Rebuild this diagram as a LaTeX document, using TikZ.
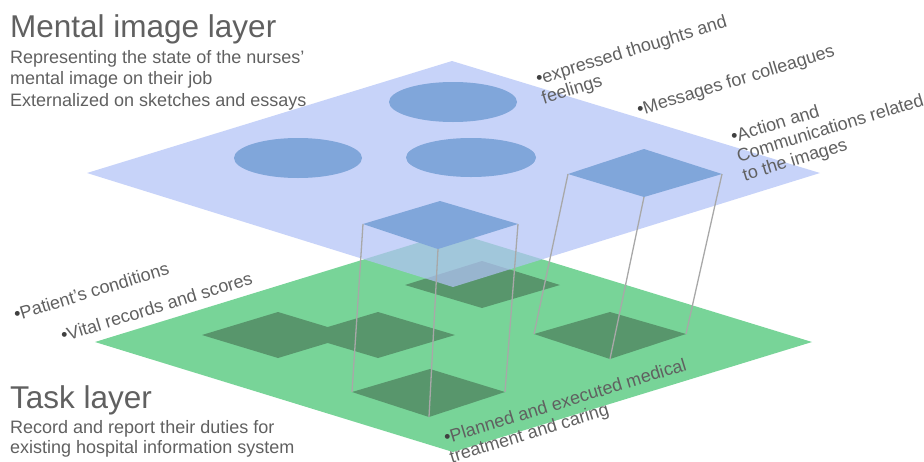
\documentclass[tikz,border=0pt]{standalone}
\usepackage{fontspec}
\setmainfont{Liberation Sans}
\definecolor{bplane}{RGB}{178,194,246}
\definecolor{gplane}{RGB}{120,212,152}
\definecolor{gsq}{RGB}{88,150,108}
\definecolor{bshape}{RGB}{128,166,218}
\definecolor{txt}{RGB}{96,96,96}
\definecolor{conn}{RGB}{168,168,168}
\tikzset{
  title/.style={inner sep=0pt, anchor=base west, text=txt, font=\fontsize{31.5}{36}\selectfont},
  desc/.style={inner sep=0pt, anchor=base west, text=txt, align=left},
  lab/.style={inner sep=0pt, anchor=base west, text=txt, align=left, rotate=17, font=\fontsize{18}{20}\selectfont},
  conline/.style={draw=conn, line width=1.3pt}
}
\newcommand{\bu}{{\color{black!75}•}}
\begin{document}
\begin{tikzpicture}[x=1pt,y=-1pt]
\useasboundingbox (0,0) rectangle (924,461);
% green plane
\coordinate (gpT) at (453,232); \coordinate (gpR) at (812,342);
\coordinate (gpB) at (453,452); \coordinate (gpL) at (95,342);
\fill[gplane] (gpT) -- (gpR) -- (gpB) -- (gpL) -- cycle;
% green squares
\coordinate (gbT) at (430,369); \coordinate (gbR) at (505,392);
\coordinate (gbB) at (429,417); \coordinate (gbL) at (352,392);
\coordinate (grT) at (610,312); \coordinate (grR) at (686,334);
\coordinate (grB) at (610,359); \coordinate (grL) at (534,334);
\coordinate (gkT) at (482,261); \coordinate (gkR) at (560,285);
\coordinate (gkB) at (482,308); \coordinate (gkL) at (405,285);
\coordinate (gaT) at (278,312); \coordinate (gaR) at (354,335);
\coordinate (gaB) at (278,358); \coordinate (gaL) at (202,335);
\coordinate (gcT) at (378,312); \coordinate (gcR) at (455,335);
\coordinate (gcB) at (378,358); \coordinate (gcL) at (301,335);
\fill[gsq] (gbT) -- (gbR) -- (gbB) -- (gbL) -- cycle;
\fill[gsq] (grT) -- (grR) -- (grB) -- (grL) -- cycle;
\fill[gsq] (gkT) -- (gkR) -- (gkB) -- (gkL) -- cycle;
\fill[gsq] (gaT) -- (gaR) -- (gaB) -- (gaL) -- cycle;
\fill[gsq] (gcT) -- (gcR) -- (gcB) -- (gcL) -- cycle;
% blue plane
\coordinate (bpT) at (452,61); \coordinate (bpR) at (820,173);
\coordinate (bpB) at (453,287); \coordinate (bpL) at (87,173);
\fill[bplane, opacity=0.72] (bpT) -- (bpR) -- (bpB) -- (bpL) -- cycle;
% ellipses
\fill[bshape] (453,102) ellipse [x radius=64, y radius=20];
\fill[bshape] (471,157.5) ellipse [x radius=65, y radius=19.5];
\fill[bshape] (298,158) ellipse [x radius=64, y radius=20];
% blue diamonds
\coordinate (mdT) at (440,201); \coordinate (mdR) at (518,224);
\coordinate (mdB) at (438,249); \coordinate (mdL) at (363,224);
\coordinate (rdT) at (644,149); \coordinate (rdR) at (722,174);
\coordinate (rdB) at (644,197); \coordinate (rdL) at (568,174);
\fill[bshape] (mdT) -- (mdR) -- (mdB) -- (mdL) -- cycle;
\fill[bshape] (rdT) -- (rdR) -- (rdB) -- (rdL) -- cycle;
% connectors
\draw[conline] (mdL) -- (gbL);
\draw[conline] (mdB) -- (gbB);
\draw[conline] (mdR) -- (gbR);
\draw[conline] (rdL) -- (grL);
\draw[conline] (rdB) -- (grB);
\draw[conline] (rdR) -- (grR);
% titles (base anchor = baseline of last line)
\node[title] (mtitle) at (10,37) {Mental image layer};
\node[desc, font=\fontsize{18}{21.5}\selectfont] (mdesc) at (10,106)
  {Representing the state of the nurses’\\mental image on their job\\Externalized on sketches and essays};
\node[title] (ttitle) at (10,408) {Task layer};
\node[desc, font=\fontsize{18}{20}\selectfont] (tdesc) at (10,453.5)
  {Record and report their duties for\\existing hospital information system};
% labels
\node[lab] (l1) at (543.8,104.1) {\bu expressed thoughts and\\feelings};
\node[lab] (l2) at (639,116) {\bu Messages for colleagues};
\node[lab] (l3) at (744.7,181.2) {\bu Action and\\Communications related\\to the images};
\node[lab] (l4) at (16,321) {\bu Patient’s conditions};
\node[lab] (l5) at (63,342) {\bu Vital records and scores};
\node[lab] (l6) at (451.8,463.1) {\bu Planned and executed medical\\treatment and caring};
\end{tikzpicture}
\end{document}
